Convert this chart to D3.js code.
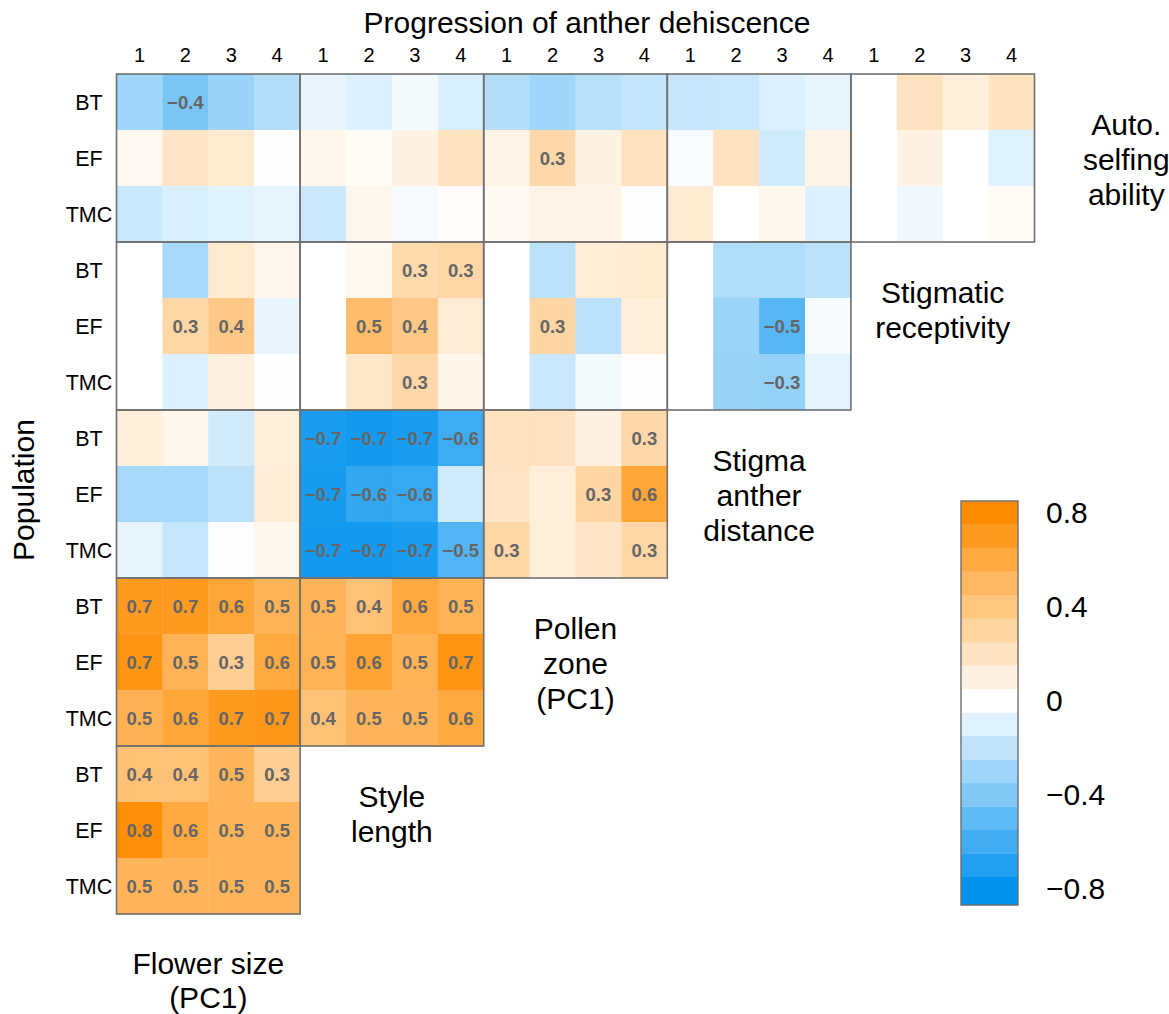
<!DOCTYPE html>
<html>
<head>
<meta charset="utf-8">
<script src="https://cdn.jsdelivr.net/npm/d3@7"></script>
<style>
  html, body { margin: 0; padding: 0; background: #fff; }
  svg { display: block; font-family: "Liberation Sans", Arial, Helvetica, sans-serif; }
</style>
</head>
<body>
<svg id="chart" width="1169" height="1014"></svg>
<script>
// ---------------- DATA ----------------
const populations = ["BT", "EF", "TMC"];
const stages = ["1", "2", "3", "4"];
const colTraits = ["Flower size (PC1)", "Style length", "Pollen zone (PC1)", "Stigma anther distance", "Stigmatic receptivity"];
const rowTraits = ["Auto. selfing ability", "Stigmatic receptivity", "Stigma anther distance", "Pollen zone (PC1)", "Style length"];
const diagLabels = [["Auto.", "selfing", "ability"], ["Stigmatic", "receptivity"], ["Stigma", "anther", "distance"], ["Pollen", "zone", "(PC1)"], ["Style", "length"]];
const bottomLabel = ["Flower size", "(PC1)"];
const xTitle = "Progression of anther dehiscence";
const yTitle = "Population";
const legendTicks = [-0.8, -0.4, 0, 0.4, 0.8];
const legendSteps = [-0.8, -0.7, -0.6, -0.5, -0.4, -0.3, -0.2, -0.1, 0, 0.1, 0.2, 0.3, 0.4, 0.5, 0.6, 0.7, 0.8];
const legendRange = [-0.87, 0.85];

// correlation values: rows = populations, columns = colTrait blocks x stages
const autoSelfing = [
  [-0.30, -0.42, -0.32, -0.24, -0.07, -0.11, -0.04, -0.12, -0.24, -0.30, -0.22, -0.19, -0.18, -0.17, -0.11, -0.08, 0.00, 0.20, 0.11, 0.20],
  [0.04, 0.18, 0.15, -0.01, 0.06, 0.03, 0.09, 0.19, 0.08, 0.27, 0.09, 0.20, -0.02, 0.20, -0.15, 0.08, 0.00, 0.09, 0.00, -0.10],
  [-0.17, -0.12, -0.10, -0.08, -0.16, 0.06, -0.03, 0.02, 0.04, 0.08, 0.08, -0.01, 0.14, 0.00, 0.06, -0.11, 0.00, -0.05, 0.00, 0.03]
];
const autoSelfingSig = [
  [0,1,0,0, 0,0,0,0, 0,0,0,0, 0,0,0,0, 0,0,0,0],
  [0,0,0,0, 0,0,0,0, 0,1,0,0, 0,0,0,0, 0,0,0,0],
  [0,0,0,0, 0,0,0,0, 0,0,0,0, 0,0,0,0, 0,0,0,0]
];
const stigmaticReceptivity = [
  [0.00, -0.28, 0.15, 0.06, 0.00, 0.05, 0.26, 0.28, 0.00, -0.21, 0.13, 0.15, 0.00, -0.25, -0.25, -0.21],
  [0.00, 0.28, 0.38, -0.07, 0.00, 0.46, 0.38, 0.13, 0.00, 0.29, -0.21, 0.12, 0.00, -0.31, -0.53, -0.03],
  [0.00, -0.11, 0.10, -0.01, 0.00, 0.17, 0.27, 0.07, 0.00, -0.17, -0.04, 0.01, 0.00, -0.32, -0.34, -0.09]
];
const stigmaticReceptivitySig = [
  [0,0,0,0, 0,0,1,1, 0,0,0,0, 0,0,0,0],
  [0,1,1,0, 0,1,1,0, 0,1,0,0, 0,0,1,0],
  [0,0,0,0, 0,0,1,0, 0,0,0,0, 0,0,1,0]
];
const stigmaAntherDistance = [
  [0.12, 0.06, -0.15, 0.12, -0.72, -0.74, -0.72, -0.61, 0.20, 0.20, 0.10, 0.27],
  [-0.28, -0.28, -0.21, 0.13, -0.73, -0.64, -0.63, -0.15, 0.18, 0.12, 0.29, 0.62],
  [-0.08, -0.18, -0.01, 0.06, -0.74, -0.74, -0.72, -0.54, 0.28, 0.12, 0.18, 0.28]
];
const stigmaAntherDistanceSig = [
  [0,0,0,0, 1,1,1,1, 0,0,0,1],
  [0,0,0,0, 1,1,1,0, 0,0,1,1],
  [0,0,0,0, 1,1,1,1, 1,0,0,1]
];
const pollenZone = [
  [0.70, 0.70, 0.63, 0.53, 0.52, 0.43, 0.60, 0.53],
  [0.74, 0.53, 0.34, 0.60, 0.53, 0.64, 0.53, 0.74],
  [0.54, 0.62, 0.70, 0.72, 0.43, 0.52, 0.52, 0.60]
];
const pollenZoneSig = [
  [1,1,1,1, 1,1,1,1],
  [1,1,1,1, 1,1,1,1],
  [1,1,1,1, 1,1,1,1]
];
const styleLength = [
  [0.43, 0.43, 0.52, 0.34],
  [0.78, 0.60, 0.52, 0.52],
  [0.52, 0.52, 0.52, 0.52]
];
const styleLengthSig = [
  [1,1,1,1],
  [1,1,1,1],
  [1,1,1,1]
];

const blockValues = [autoSelfing, stigmaticReceptivity, stigmaAntherDistance, pollenZone, styleLength];
const blockSig = [autoSelfingSig, stigmaticReceptivitySig, stigmaAntherDistanceSig, pollenZoneSig, styleLengthSig];

// ---------------- BUILD ----------------
const svg = d3.select("#chart");
const FONT = "'Liberation Sans', Arial, Helvetica, sans-serif";
const gridLeft = 116.5, gridRight = 1034.5, gridTop = 74, gridBottom = 914;

const colKeys = [];
colTraits.forEach((t, j) => stages.forEach(s => colKeys.push(j + "_" + s)));
const rowKeys = [];
rowTraits.forEach((t, i) => populations.forEach(p => rowKeys.push(i + "_" + p)));

const x = d3.scaleBand().domain(colKeys).range([gridLeft, gridRight]).padding(0);
const y = d3.scaleBand().domain(rowKeys).range([gridTop, gridBottom]).padding(0);
const blockW = x.bandwidth() * stages.length;
const blockH = y.bandwidth() * populations.length;

const blueEnd = "#0092ee", orangeEnd = "#ff8c00";
const color = d3.scaleLinear().domain([-0.8, 0, 0.8]).range([blueEnd, "#ffffff", orangeEnd])
  .interpolate(d3.interpolateRgb).clamp(true);

const fmt = d3.format(".1f");

const cells = [];
blockValues.forEach((mat, i) => {
  mat.forEach((row, pi) => {
    row.forEach((v, ci) => {
      const j = Math.floor(ci / 4), s = stages[ci % 4];
      cells.push({ r: i + "_" + populations[pi], c: j + "_" + s, v, sig: blockSig[i][pi][ci] });
    });
  });
});

const gCells = svg.append("g");
gCells.selectAll("rect").data(cells).join("rect")
  .attr("x", d => x(d.c))
  .attr("y", d => y(d.r))
  .attr("width", x.bandwidth() + 0.4)
  .attr("height", y.bandwidth() + 0.4)
  .attr("fill", d => color(d.v));

gCells.selectAll("text").data(cells.filter(d => d.sig)).join("text")
  .attr("x", d => x(d.c) + x.bandwidth() / 2)
  .attr("y", d => y(d.r) + y.bandwidth() / 2)
  .attr("dy", "0.36em")
  .attr("text-anchor", "middle")
  .attr("font-size", 18.5)
  .attr("font-weight", "bold")
  .attr("fill", "#656565")
  .text(d => fmt(d.v));

// block borders
const blocks = [];
rowTraits.forEach((t, i) => {
  const n = colTraits.length - i;
  for (let j = 0; j < n; j++) blocks.push({ i, j });
});
svg.append("g").selectAll("rect").data(blocks).join("rect")
  .attr("x", d => x(d.j + "_1"))
  .attr("y", d => y(d.i + "_BT"))
  .attr("width", blockW)
  .attr("height", blockH)
  .attr("fill", "none")
  .attr("stroke", "#707070")
  .attr("stroke-width", 1.6);

// top axis: stage numbers
const xAxis = svg.append("g")
  .attr("transform", `translate(0,${gridTop - 12})`)
  .call(d3.axisTop(x).tickSize(0).tickPadding(0).tickFormat(d => d.split("_")[1]));
xAxis.select(".domain").remove();
xAxis.selectAll("text").attr("font-size", 20).attr("fill", "#000")
  .attr("font-family", FONT).attr("dy", 0);

// left axis: populations
const yAxis = svg.append("g")
  .attr("transform", `translate(${gridLeft},0)`)
  .call(d3.axisLeft(y).tickSize(0).tickPadding(0).tickFormat(d => d.split("_")[1]));
yAxis.select(".domain").remove();
yAxis.selectAll("text").attr("font-size", 21.5).attr("fill", "#000")
  .attr("font-family", FONT)
  .attr("text-anchor", "middle").attr("x", 89 - gridLeft).attr("dy", "0.36em");

// titles
svg.append("text").attr("x", 587).attr("y", 33).attr("text-anchor", "middle")
  .attr("font-size", 30).attr("fill", "#000").text(xTitle);
svg.append("text").attr("transform", "translate(34,490) rotate(-90)").attr("text-anchor", "middle")
  .attr("font-size", 30).attr("fill", "#000").text(yTitle);

// diagonal labels
const lineGap = 35;
diagLabels.forEach((lines, i) => {
  const n = colTraits.length - i;
  const cx = gridLeft + (n + 0.5) * blockW;
  const top = y(i + "_BT");
  const t = svg.append("text").attr("text-anchor", "middle").attr("font-size", 30).attr("fill", "#000");
  lines.forEach((ln, k) => t.append("tspan").attr("x", cx).attr("y", top + 61 + k * lineGap).text(ln));
});
{
  const cx = gridLeft + 0.5 * blockW;
  const t = svg.append("text").attr("text-anchor", "middle").attr("font-size", 30).attr("fill", "#000");
  bottomLabel.forEach((ln, k) => t.append("tspan").attr("x", cx).attr("y", gridBottom + 60 + k * 34).text(ln));
}

// legend
const legX = 961, legW = 57;
const ly = d3.scaleLinear().domain(legendRange).range([905, 501]);
const lo = d => (d === legendSteps[0] ? legendRange[0] : d - 0.05);
const hi = d => (d === legendSteps[legendSteps.length - 1] ? legendRange[1] : d + 0.05);
const gLeg = svg.append("g");
gLeg.selectAll("rect.step").data(legendSteps).join("rect").attr("class", "step")
  .attr("x", legX)
  .attr("y", d => ly(hi(d)))
  .attr("width", legW)
  .attr("height", d => ly(lo(d)) - ly(hi(d)) + 0.3)
  .attr("fill", d => color(d));
gLeg.append("rect").attr("x", legX).attr("y", ly(legendRange[1])).attr("width", legW)
  .attr("height", ly(legendRange[0]) - ly(legendRange[1]))
  .attr("fill", "none").attr("stroke", "#707070").attr("stroke-width", 1.4);
const legAxis = gLeg.append("g").attr("transform", `translate(${legX + legW},0)`)
  .call(d3.axisRight(ly).tickValues(legendTicks).tickSize(0).tickPadding(28).tickFormat(d3.format("")));
legAxis.select(".domain").remove();
legAxis.selectAll("text").attr("font-size", 30).attr("fill", "#000")
  .attr("font-family", FONT);
</script>
</body>
</html>
